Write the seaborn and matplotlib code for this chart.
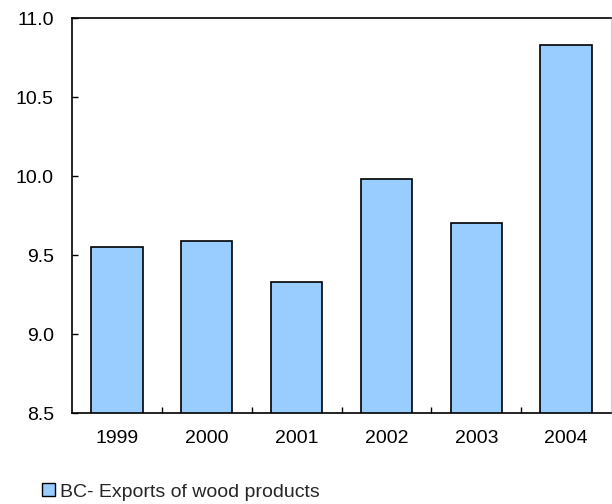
import matplotlib
matplotlib.use("Agg")
import matplotlib.pyplot as plt
import seaborn as sns
import pandas as pd
from matplotlib.patches import Patch

years = ["1999", "2000", "2001", "2002", "2003", "2004"]
values = [9.55, 9.59, 9.33, 9.98, 9.70, 10.83]
series_name = "BC- Exports of wood products"
y_ticks = [8.5, 9.0, 9.5, 10.0, 10.5, 11.0]

sns.set_style("white")
plt.rcParams["font.family"] = ["Liberation Sans", "DejaVu Sans"]

df = pd.DataFrame({"year": years, "value": values})

fig = plt.figure(figsize=(6.12, 5.04), dpi=100)
ax = fig.add_axes([72 / 612, 1 - 413 / 504, 539 / 612, 395 / 504])

bar_color = "#99CCFF"
sns.barplot(data=df, x="year", y="value", color=bar_color, width=0.57,
            edgecolor="black", linewidth=1.2, saturation=1, ax=ax)

ax.set_ylim(8.5, 11.0)
ax.set_xlim(-0.5, len(years) - 0.5)
ax.set_yticks(y_ticks)
ax.set_yticklabels([f"{t:.1f}" for t in y_ticks])
ax.set_xlabel("")
ax.set_ylabel("")

for s in ax.spines.values():
    s.set_visible(True)
    s.set_color("black")
    s.set_linewidth(1.2)
ax.spines["right"].set_color("#d0d0d0")
ax.spines["right"].set_linewidth(0.8)

ax.tick_params(axis="y", direction="in", length=4, width=1, labelsize=14,
               left=True, pad=13, colors="black")
ax.tick_params(axis="x", length=0, labelsize=14, pad=12, colors="black")
# small inward ticks between categories along the baseline
ax.set_xticks([i + 0.5 for i in range(len(years) - 1)], minor=True)
ax.tick_params(axis="x", which="minor", direction="in", length=4, width=1,
               bottom=True, colors="black")

handle = Patch(facecolor=bar_color, edgecolor="black", linewidth=1)
fig.legend([handle], [series_name], loc="center left",
           bbox_to_anchor=(42 / 612, 12 / 504), frameon=False, fontsize=14,
           handlelength=0.65, handleheight=0.65, handletextpad=0.3,
           borderpad=0, borderaxespad=0)

fig.savefig("out.png", dpi=100)
